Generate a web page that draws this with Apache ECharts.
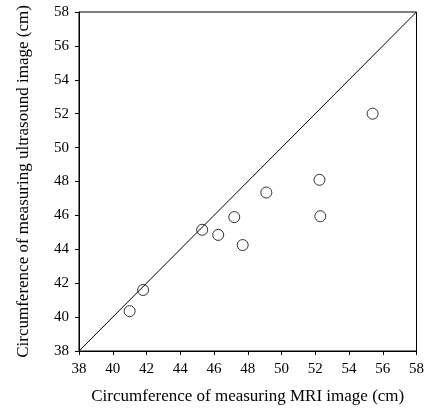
<!DOCTYPE html>
<html lang="en">
<head>
	<meta charset="utf-8">
	<title>MRI vs ultrasound</title>
	<script src="https://cdn.jsdelivr.net/npm/echarts@6/dist/echarts.min.js"></script>
	<style>
		html, body { margin: 0; padding: 0; background: #fff; }
		#main { width: 427px; height: 411px; }
	</style>
</head>
<body>
	<div id="main"></div>
	<script>
		// MRI circumference (x) and ultrasound circumference (y), cm
		var mriValues = [41.0, 41.8, 45.3, 46.25, 47.2, 47.7, 49.1, 52.25, 52.3, 55.4];
		var usValues = [40.35, 41.6, 45.15, 44.85, 45.9, 44.25, 47.35, 48.1, 45.95, 52.0];
		// line of equality
		var refLine = [[38, 38], [58, 58]];

		var points = [];
		for (var i = 0; i < mriValues.length; i++) {
			points.push([mriValues[i], usValues[i]]);
		}

		var font = 'Liberation Serif';
		var myChart = echarts.init(document.getElementById('main'));
		var axisCommon = {
			type: 'value',
			min: 38,
			max: 58,
			interval: 2,
			nameLocation: 'middle',
			nameTextStyle: { fontFamily: font, fontSize: 17, color: '#000' },
			axisLine: { show: true, lineStyle: { color: '#000', width: 1 } },
			axisTick: { show: true, inside: false, length: 4, lineStyle: { color: '#000' } },
			axisLabel: { fontFamily: font, fontSize: 15, color: '#000' },
			splitLine: { show: false }
		};
		var option = {
			animation: false,
			grid: {
				left: 79, right: 9, top: 12, bottom: 60,
				show: true, borderColor: '#000', borderWidth: 1
			},
			xAxis: Object.assign({}, axisCommon, {
				name: 'Circumference of measuring MRI image (cm)',
				nameGap: 37,
				axisLabel: Object.assign({}, axisCommon.axisLabel, { margin: 11 })
			}),
			yAxis: Object.assign({}, axisCommon, {
				name: 'Circumference of measuring ultrasound image (cm)',
				nameGap: 47,
				axisLabel: Object.assign({}, axisCommon.axisLabel, { margin: 10 })
			}),
			series: [
				{
					type: 'line',
					data: refLine,
					symbol: 'none',
					lineStyle: { color: '#000', width: 1 },
					silent: true
				},
				{
					type: 'scatter',
					data: points,
					symbol: 'circle',
					symbolSize: 11,
					itemStyle: { color: '#fff', borderColor: '#000', borderWidth: 1 }
				}
			]
		};
		myChart.setOption(option);
	</script>
</body>
</html>
